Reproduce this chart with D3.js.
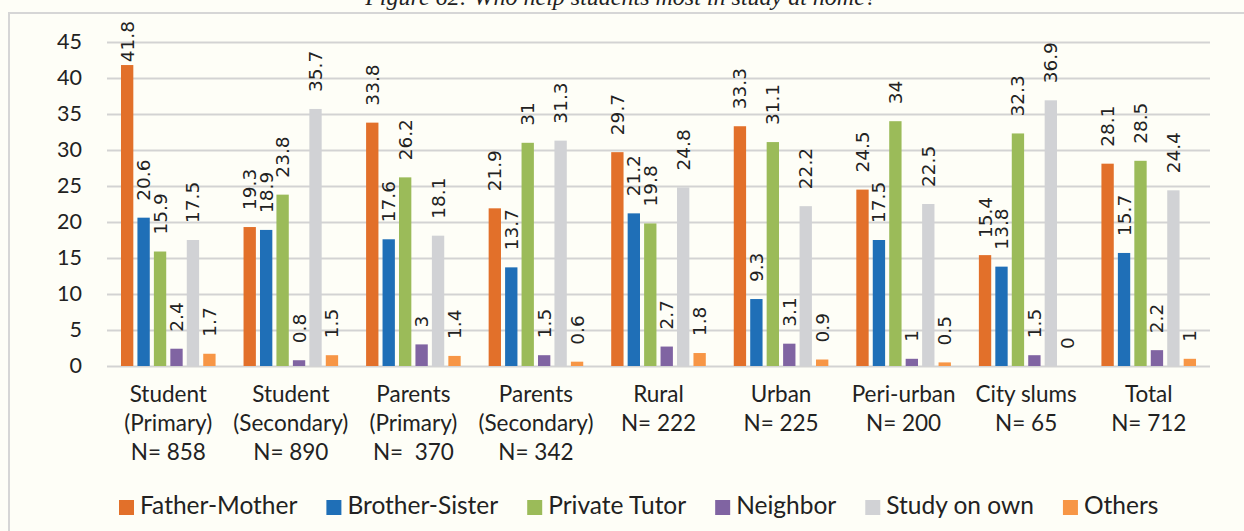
<!DOCTYPE html>
<html lang="en">
<head>
    <meta charset="UTF-8">
    <title>Who help students most in study at home</title>
    <script src="https://d3js.org/d3.v7.min.js"></script>
</head>
<style>
    html,body {
        margin: 0;
        padding: 0;
        background: #fefef7;
    }
</style>
<body>
    <div id="svg"></div>
</body>
<script>
    // categories (each one is several lines under the axis)
    const categories = [
        ['Student', '(Primary)', 'N= 858'],
        ['Student', '(Secondary)', 'N= 890'],
        ['Parents', '(Primary)', 'N=  370'],
        ['Parents', '(Secondary)', 'N= 342'],
        ['Rural', 'N= 222'],
        ['Urban', 'N= 225'],
        ['Peri-urban', 'N= 200'],
        ['City slums', 'N= 65'],
        ['Total', 'N= 712']
    ];
    const seriesNames = ['Father-Mother', 'Brother-Sister', 'Private Tutor', 'Neighbor', 'Study on own', 'Others'];
    const fatherMother = [41.8, 19.3, 33.8, 21.9, 29.7, 33.3, 24.5, 15.4, 28.1];
    const brotherSister = [20.6, 18.9, 17.6, 13.7, 21.2, 9.3, 17.5, 13.8, 15.7];
    const privateTutor = [15.9, 23.8, 26.2, 31, 19.8, 31.1, 34, 32.3, 28.5];
    const neighbor = [2.4, 0.8, 3, 1.5, 2.7, 3.1, 1, 1.5, 2.2];
    const studyOnOwn = [17.5, 35.7, 18.1, 31.3, 24.8, 22.2, 22.5, 36.9, 24.4];
    const others = [1.7, 1.5, 1.4, 0.6, 1.8, 0.9, 0.5, 0, 1];
    const yTicks = [0, 5, 10, 15, 20, 25, 30, 35, 40, 45];

    const colors = ['#e2702a', '#1f6fb7', '#9bbb59', '#8064a2', '#d1d2d5', '#f79646'];
    const seriesValues = [fatherMother, brotherSister, privateTutor, neighbor, studyOnOwn, others];

    const width = 1244;
    const height = 531;
    const plot = {left: 107, right: 1210, top: 42, bottom: 366};

    const svg = d3.select('#svg').append('svg')
        .attr('width', width)
        .attr('height', height)
        .style('display', 'block');

    // frame around the figure (right and bottom sides are cut off)
    svg.append('rect')
        .attr('x', 9).attr('y', 13)
        .attr('width', width + 20).attr('height', height + 20)
        .attr('fill', 'none')
        .attr('stroke', '#d6d6d6')
        .attr('stroke-width', 2);

    // title, its top half is cut off in the picture
    svg.append('text')
        .attr('x', 621).attr('y', 5)
        .attr('text-anchor', 'middle')
        .attr('font-family', 'Liberation Serif')
        .attr('font-style', 'italic')
        .attr('font-size', '24px')
        .attr('fill', '#222')
        .text('Figure 62: Who help students most in study at home?');

    const x0 = d3.scaleBand()
        .domain(d3.range(categories.length))
        .range([plot.left, plot.right]);
    const x1 = d3.scaleBand()
        .domain(d3.range(seriesNames.length))
        .range([0, x0.bandwidth()])
        .paddingInner(0.25)
        .paddingOuter(0.85);
    const y = d3.scaleLinear()
        .domain([0, 45])
        .range([plot.bottom, plot.top]);

    // gridlines + y labels
    const yAxis = svg.append('g')
        .attr('transform', `translate(${plot.left},0)`)
        .call(d3.axisLeft(y).tickValues(yTicks).tickSize(-(plot.right - plot.left)).tickPadding(25));
    yAxis.select('.domain').remove();
    yAxis.selectAll('line').attr('stroke', '#d3d3d3').attr('stroke-width', 2);
    yAxis.selectAll('text')
        .attr('font-family', 'Lato')
        .attr('font-size', '21.5px')
        .attr('fill', '#222');

    // bars
    const groups = svg.selectAll('g.group').data(categories).enter().append('g')
        .attr('class', 'group')
        .attr('transform', (d, i) => `translate(${x0(i)},0)`);

    groups.each(function (c, ci) {
        const g = d3.select(this);
        const rows = seriesValues.map((vals, si) => ({si: si, v: vals[ci]}));
        g.selectAll('rect').data(rows).enter().append('rect')
            .attr('x', d => x1(d.si))
            .attr('y', d => y(d.v))
            .attr('width', x1.bandwidth())
            .attr('height', d => y(0) - y(d.v))
            .attr('fill', d => colors[d.si]);

        // rotated value labels above the bars
        g.selectAll('text').data(rows).enter().append('text')
            .attr('font-family', 'DejaVu Sans')
            .attr('font-size', '18.5px')
            .attr('fill', '#222')
            .attr('dominant-baseline', 'central')
            .text(d => d.v)
            .each(function (d) {
                const len = this.getComputedTextLength();
                const cx = x1(d.si) + x1.bandwidth() / 2;
                let start = y(d.v) - 17;
                if (start - len < 21) start = 21 + len; // keep inside the chart area
                d3.select(this).attr('transform', `translate(${cx},${start}) rotate(-90)`);
            });
    });

    // category labels
    svg.selectAll('text.cat').data(categories).enter().append('text')
        .attr('class', 'cat')
        .attr('x', (d, i) => x0(i) + x0.bandwidth() / 2)
        .attr('y', 402)
        .attr('text-anchor', 'middle')
        .attr('font-family', 'Lato')
        .attr('font-size', '22.5px')
        .attr('fill', '#222')
        .style('white-space', 'pre')
        .each(function (d) {
            const t = d3.select(this);
            d.forEach((line, k) => {
                t.append('tspan')
                    .attr('x', t.attr('x'))
                    .attr('dy', k === 0 ? 0 : 29)
                    .text(line);
            });
        });

    // legend
    const legend = svg.append('g').attr('transform', 'translate(119,0)');
    let lx = 0;
    seriesNames.forEach((name, i) => {
        legend.append('rect')
            .attr('x', lx).attr('y', 500)
            .attr('width', 15).attr('height', 15)
            .attr('fill', colors[i]);
        const t = legend.append('text')
            .attr('x', lx + 21).attr('y', 514)
            .attr('font-family', 'Lato')
            .attr('font-size', '24.5px')
            .attr('fill', '#222')
            .text(name);
        lx += 21 + t.node().getComputedTextLength() + 29;
    });
</script>
</html>
